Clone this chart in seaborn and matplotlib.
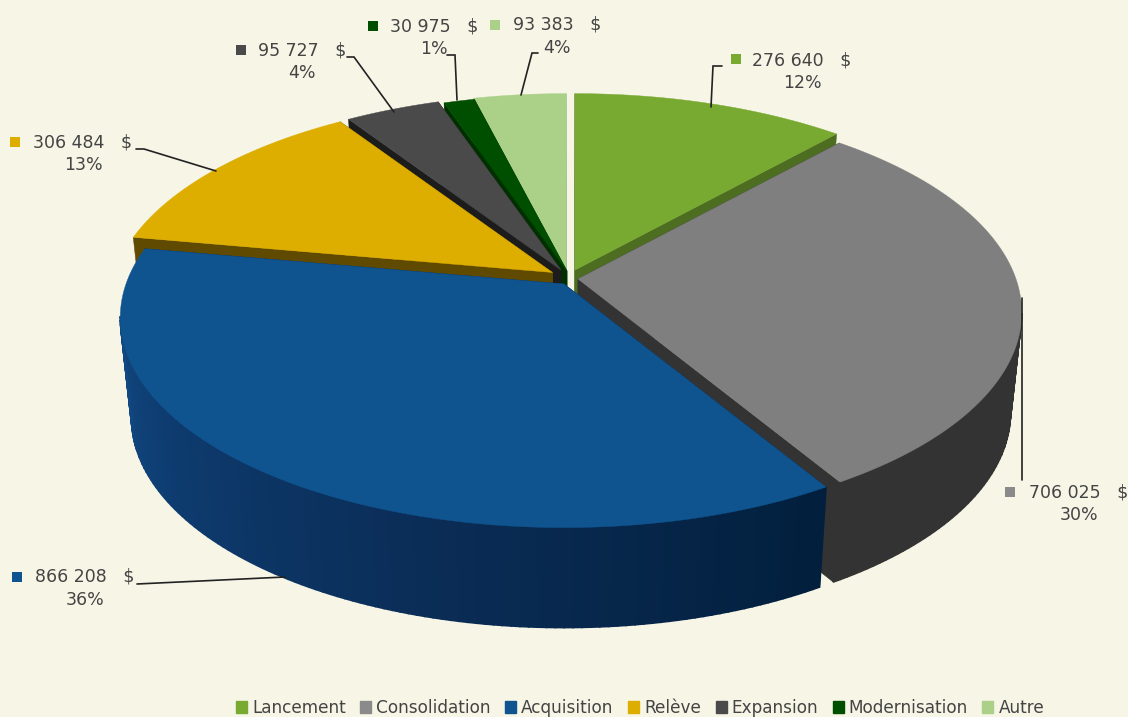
import numpy as np
import seaborn as sns
from matplotlib import pyplot as plt
from matplotlib.patches import Patch

categories = ["Lancement", "Consolidation", "Acquisition", "Relève", "Expansion", "Modernisation", "Autre"]
amounts = [276640, 706025, 866208, 306484, 95727, 30975, 93383]
amount_labels = ["276 640", "706 025", "866 208", "306 484", "95 727", "30 975", "93 383"]
percent_labels = ["12%", "30%", "36%", "13%", "4%", "1%", "4%"]

top_colors = ["#78a931", "#7f7f7f", "#0f548f", "#ddae00", "#4a4a4a", "#004f00", "#abd088"]
side_colors = ["#4d6e20", "#333333", "#0a2c55", "#5f4a00", "#1c1c1c", "#003000", "#8aa870"]
legend_colors = ["#78a931", "#8a8a8a", "#0f548f", "#ddae00", "#4a4a4a", "#004f00", "#abd088"]
BACKGROUND = "#f6f5e6"
TEXT_COLOR = "#444444"

# where each exploded slice has its tip, in pixels
tips = [(575, 270), (578, 279), (564, 284), (552.5, 272.5), (561, 270), (567, 271), (566, 270)]

# perspective of the pie plane
RADIUS_X = 438
RADIUS_Y = 204.6
PERSPECTIVE = 0.16
DEPTH = 100
SHRINK = 0.975
CENTER_X = 570

# label centre x, first line y, marker x, marker y
label_places = [
    (802, 60, 736, 59),
    (1079, 492, 1010, 492),
    (85, 577, 17, 577),
    (83, 142, 15, 142),
    (302, 50, 241, 50),
    (434, 26, 373, 26),
    (557, 25, 495, 25),
]
leaders = [
    [(722, 66), (713, 66), (711, 107)],
    [(1022, 298), (1022, 480)],
    [(137, 584), (285, 577)],
    [(136, 149), (144, 149), (216, 171)],
    [(347, 57), (354, 57), (394, 112)],
    [(447, 55), (455, 55), (457, 100)],
    [(538, 53), (532, 53), (521, 95)],
]


def rim(tip, angles):
    s = np.sin(angles)
    c = np.cos(angles)
    f = 1 / (1 + PERSPECTIVE * c)
    return tip[0] + RADIUS_X * s * f, tip[1] - RADIUS_Y * c * f


def lower(x, y):
    return CENTER_X + (np.asarray(x) - CENTER_X) * SHRINK, np.asarray(y) + DEPTH


def draw_slice(ax, i, start, end):
    tip = tips[i]
    steps = max(int(np.degrees(end - start)), 4)
    angles = np.linspace(start, end, steps + 1)
    x, y = rim(tip, angles)
    xb, yb = lower(x, y)
    tip_b = lower(tip[0], tip[1])

    # radial walls
    for k in (0, -1):
        ax.fill(
            [tip[0], x[k], xb[k], tip_b[0]],
            [tip[1], y[k], yb[k], tip_b[1]],
            color=side_colors[i],
            linewidth=0.4,
        )

    # outer wall, the blue one runs through a gradient
    if categories[i] == "Acquisition":
        wall = sns.blend_palette(["#021f3d", "#0a2c55", "#0e3c70", "#14528f"], steps)
    else:
        wall = [side_colors[i]] * steps
    for k in range(steps):
        # the back of the wall is hidden, skip it or it outlines the rim
        if np.cos(angles[k]) > -PERSPECTIVE:
            continue
        ax.fill(
            [x[k], x[k + 1], xb[k + 1], xb[k]],
            [y[k], y[k + 1], yb[k + 1], yb[k]],
            color=wall[k],
            linewidth=1.2,
        )

    # top face
    ax.fill(
        np.r_[tip[0], x],
        np.r_[tip[1], y],
        color=top_colors[i],
        linewidth=0.3,
    )


sns.set_theme(style="white", rc={"figure.facecolor": BACKGROUND, "axes.facecolor": BACKGROUND})
plt.rcParams["font.family"] = ["DejaVu Sans"]

fig = plt.figure(figsize=(11.28, 7.17), dpi=100)
ax = fig.add_axes([0, 0, 1, 1])
ax.set_xlim(0, 1128)
ax.set_ylim(717, 0)
ax.axis("off")

shares = np.array(amounts) / sum(amounts)
edges = np.r_[0, np.cumsum(shares)] * 2 * np.pi

# back slices first, the blue one comes last
for i in [0, 6, 5, 4, 3, 1, 2]:
    draw_slice(ax, i, edges[i], edges[i + 1])

for i, line in enumerate(leaders):
    xs, ys = zip(*line)
    ax.plot(xs, ys, color="#222222", linewidth=1.2, solid_joinstyle="miter")

    cx, cy, mx, my = label_places[i]
    ax.text(cx, cy, amount_labels[i] + "   $", ha="center", va="center", fontsize=12.5, color=TEXT_COLOR)
    ax.text(cx, cy + 23, percent_labels[i], ha="center", va="center", fontsize=12.5, color=TEXT_COLOR)
    ax.scatter([mx], [my], marker="s", s=50, color=legend_colors[i], linewidths=0)

handles = [Patch(color=c, label=n) for c, n in zip(legend_colors, categories)]
ax.legend(
    handles=handles,
    ncol=7,
    loc="lower left",
    bbox_to_anchor=(236 / 1128, 0),
    frameon=False,
    fontsize=12.2,
    labelcolor=TEXT_COLOR,
    handlelength=0.65,
    handleheight=0.65,
    handletextpad=0.3,
    columnspacing=0.85,
    borderpad=0,
    borderaxespad=0,
)

fig.savefig("out.png", dpi=100, facecolor=BACKGROUND)
